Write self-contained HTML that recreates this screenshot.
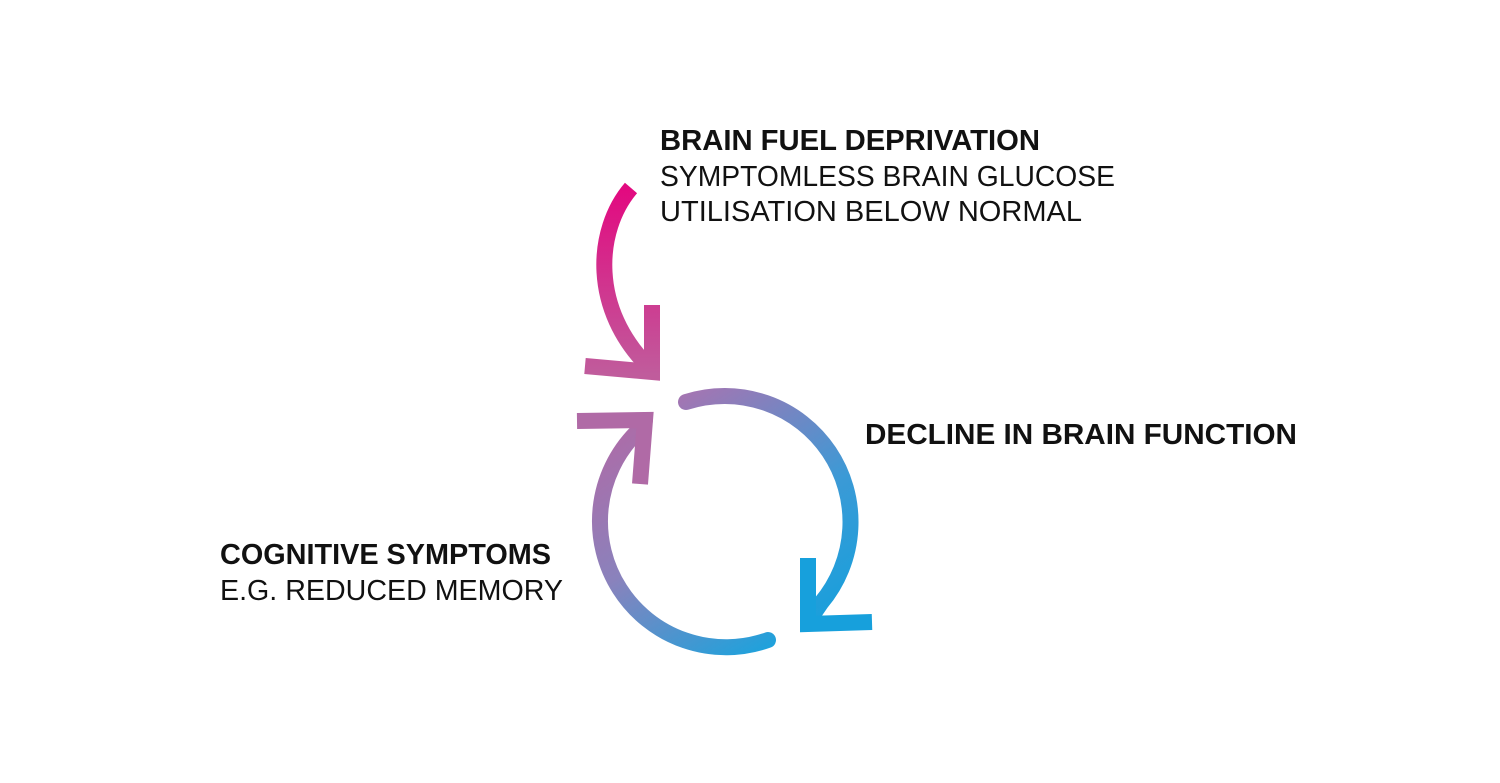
<!DOCTYPE html>
<html><head><style>html,body{margin:0;padding:0;background:#fff;}svg{display:block}</style></head>
<body>
<svg width="1500" height="783" viewBox="0 0 1500 783" xmlns="http://www.w3.org/2000/svg">
<defs>
<linearGradient id="gTop" x1="0" y1="190" x2="0" y2="375" gradientUnits="userSpaceOnUse">
<stop offset="0" stop-color="#e20a80"/><stop offset="1" stop-color="#c05c9c"/></linearGradient>
<linearGradient id="gR" x1="690" y1="390" x2="840" y2="630" gradientUnits="userSpaceOnUse">
<stop offset="0" stop-color="#a475b2"/><stop offset="0.55" stop-color="#3b9ad6"/><stop offset="1" stop-color="#15a0dc"/></linearGradient>
<linearGradient id="gL" x1="620" y1="415" x2="760" y2="655" gradientUnits="userSpaceOnUse">
<stop offset="0" stop-color="#b06aa6"/><stop offset="0.5" stop-color="#8a82bc"/><stop offset="1" stop-color="#1ea2dc"/></linearGradient>
</defs>
<g fill="none" stroke-width="16">
<path d="M631,188 C595,230 590,310 650,368" stroke="url(#gTop)"/>
<path d="M652,305 L652,372 L585,366" stroke="url(#gTop)" stroke-linecap="butt"/>
<path d="M686,402 A126,126 0 0 1 821,603 L808,622" stroke="url(#gR)" stroke-linecap="round" stroke-linejoin="round"/>
<path d="M808,558 L808,624 L872,622" stroke="#17a0dc"/>
<path d="M768,640 A126,126 0 0 1 636,433 L645,420" stroke="url(#gL)" stroke-linecap="round" stroke-linejoin="round"/>
<path d="M577,421 L645,420 L640,484" stroke="#b06aa6"/>
</g>
<g font-family="Liberation Sans, sans-serif" font-size="29" fill="#111">
<text x="660" y="150" font-weight="bold" textLength="380" lengthAdjust="spacingAndGlyphs">BRAIN FUEL DEPRIVATION</text>
<text x="660" y="186" textLength="455" lengthAdjust="spacingAndGlyphs">SYMPTOMLESS BRAIN GLUCOSE</text>
<text x="660" y="221" textLength="422" lengthAdjust="spacingAndGlyphs">UTILISATION BELOW NORMAL</text>
<text x="865" y="444" font-weight="bold" textLength="432" lengthAdjust="spacingAndGlyphs">DECLINE IN BRAIN FUNCTION</text>
<text x="220" y="564" font-weight="bold" textLength="331" lengthAdjust="spacingAndGlyphs">COGNITIVE SYMPTOMS</text>
<text x="220" y="600" textLength="343" lengthAdjust="spacingAndGlyphs">E.G. REDUCED MEMORY</text>
</g>
</svg>
</body></html>
